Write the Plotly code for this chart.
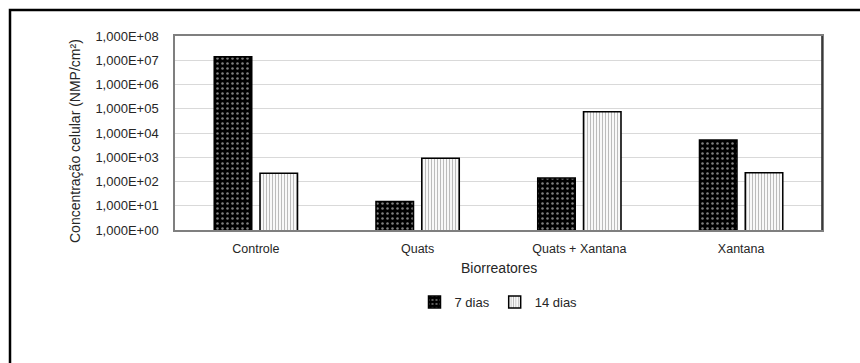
import plotly.graph_objects as go

# Biorreactor cell concentration (NMP/cm²) after 7 and 14 days
categories = ["Controle", "Quats", "Quats + Xantana", "Xantana"]
dias_7 = [1.4e7, 1.5e1, 1.4e2, 5.1e3]
dias_14 = [2.2e2, 9.0e2, 7.6e4, 2.3e2]
tick_vals = [1e0, 1e1, 1e2, 1e3, 1e4, 1e5, 1e6, 1e7, 1e8]
tick_text = ["1,000E+00", "1,000E+01", "1,000E+02", "1,000E+03", "1,000E+04",
             "1,000E+05", "1,000E+06", "1,000E+07", "1,000E+08"]

FONT = "Liberation Sans"
TXT = "#262626"

fig = go.Figure()
fig.add_trace(go.Bar(
    name="7 dias", x=categories, y=dias_7,
    marker=dict(color="black", line=dict(color="black", width=1.5),
                pattern=dict(shape=".", fgcolor="white", bgcolor="black",
                             size=5, solidity=0.2)),
))
fig.add_trace(go.Bar(
    name="14 dias", x=categories, y=dias_14,
    marker=dict(color="white", line=dict(color="black", width=1.5),
                pattern=dict(shape="|", fgcolor="#777777", bgcolor="white",
                             size=3, solidity=0.4)),
))

L, R, T, B = 175, 38, 36, 133
W, H = 860, 363
pw, ph = W - L - R, H - T - B

def px(x):
    return (x - L) / pw

def py(y):
    return (H - B - y) / ph

fig.update_layout(
    width=W, height=H,
    margin=dict(l=L, r=R, t=T, b=B),
    paper_bgcolor="white", plot_bgcolor="white",
    font=dict(family=FONT, size=12, color=TXT),
    barmode="group", bargap=0.434, bargroupgap=0.18,
    showlegend=True,
    legend=dict(orientation="h", x=0.5, xanchor="center", y=py(302),
                yanchor="middle", font=dict(size=13, color=TXT),
                itemwidth=30, traceorder="normal"),
    xaxis=dict(showline=True, linecolor="#7f7f7f", linewidth=1.5, mirror=True,
               ticks="", ticklabelstandoff=6, tickfont=dict(size=12.5, color=TXT)),
    yaxis=dict(type="log", range=[0, 8], tickvals=tick_vals, ticktext=tick_text,
               showgrid=True, gridcolor="#d9d9d9", gridwidth=1,
               showline=True, linecolor="#7f7f7f", linewidth=1.5, mirror=True,
               ticks="", ticklabelstandoff=12, tickfont=dict(size=13, color=TXT),
               zeroline=False),
    annotations=[
        dict(text="Concentração celular (NMP/cm²)", textangle=-90,
             xref="paper", yref="paper", x=px(75), y=py(141),
             xanchor="center", yanchor="middle", showarrow=False,
             font=dict(size=14, color=TXT)),
        dict(text="Biorreatores", xref="paper", yref="paper",
             x=0.5, y=py(268), xanchor="center", yanchor="middle",
             showarrow=False, font=dict(size=14, color=TXT)),
    ],
    shapes=[
        dict(type="rect", xref="paper", yref="paper",
             x0=px(10), x1=px(880), y0=py(10), y1=py(390),
             line=dict(color="black", width=2.5), fillcolor="rgba(0,0,0,0)",
             layer="below"),
        dict(type="line", xref="paper", yref="paper",
             x0=1, x1=1, y0=0, y1=1, line=dict(color="#222222", width=1.5)),
    ],
)

fig.write_html("out.html")
